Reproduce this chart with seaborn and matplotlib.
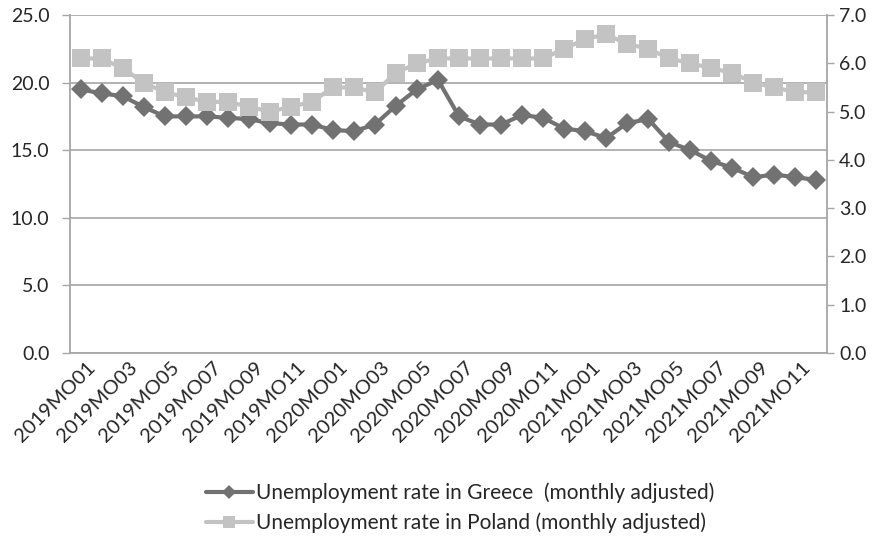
import numpy as np
import pandas as pd
import seaborn as sns
import matplotlib
matplotlib.use("Agg")
import matplotlib.pyplot as plt
import matplotlib.transforms as mtransforms
from matplotlib.lines import Line2D
from matplotlib.ticker import FixedLocator, FormatStrFormatter

months = [f"{y}MO{m:02d}" for y in (2019, 2020, 2021) for m in range(1, 13)]
greece = [19.5, 19.2, 19.0, 18.2, 17.5, 17.5, 17.5, 17.4, 17.3, 17.0, 16.9, 16.9,
          16.5, 16.4, 16.9, 18.3, 19.5, 20.2, 17.5, 16.9, 16.9, 17.6, 17.4, 16.6,
          16.4, 15.9, 17.0, 17.3, 15.6, 15.0, 14.2, 13.7, 13.0, 13.2, 13.0, 12.8]
poland = [6.1, 6.1, 5.9, 5.6, 5.4, 5.3, 5.2, 5.2, 5.1, 5.0, 5.1, 5.2,
          5.5, 5.5, 5.4, 5.8, 6.0, 6.1, 6.1, 6.1, 6.1, 6.1, 6.1, 6.3,
          6.5, 6.6, 6.4, 6.3, 6.1, 6.0, 5.9, 5.8, 5.6, 5.5, 5.4, 5.4]
label_greece = "Unemployment rate in Greece  (monthly adjusted)"
label_poland = "Unemployment rate in Poland (monthly adjusted)"

df = pd.DataFrame({"pos": np.arange(len(months)), "month": months,
                   "greece": greece, "poland": poland})

sns.set_style("white")
plt.rcParams['font.family'] = ['Lato', 'DejaVu Sans']

c_gr = "#727272"
c_pl = "#c2c3c2"
grid_c = "#a6a6a6"

fig = plt.figure(figsize=(8.82, 5.41), dpi=100)
ax = fig.add_axes([70/882, 1-353/541, (827-70)/882, (353-15)/541])
ax2 = ax.twinx()

sns.lineplot(data=df, x="pos", y="greece", ax=ax, color=c_gr, linewidth=3.0,
             marker="D", markersize=10, markeredgewidth=0, zorder=3)
sns.lineplot(data=df, x="pos", y="poland", ax=ax2, color=c_pl, linewidth=3.0,
             marker="s", markersize=12.5, markeredgewidth=0, zorder=3)

n = len(months)
ax.set_xlim(-0.5, n - 0.5)
ax.set_ylim(0, 25)
ax2.set_ylim(0, 7)

ax.set_yticks(np.arange(0, 26, 5))
ax.yaxis.set_major_formatter(FormatStrFormatter("%.1f"))
ax2.set_yticks(np.arange(0, 8, 1))
ax2.yaxis.set_major_formatter(FormatStrFormatter("%.1f"))

ax.set_xticks(np.arange(0, n, 2))
ax.set_xticklabels(months[::2], rotation=45, ha="right", rotation_mode="anchor")
ax.xaxis.set_minor_locator(FixedLocator(np.arange(-0.5, n, 1)))
ax.tick_params(axis="x", which="major", length=0, pad=4, labelsize=14.5)
ax.tick_params(axis="x", which="minor", length=6, color=grid_c, width=1, direction="out")
ax.tick_params(axis="y", length=5.8, color=grid_c, width=1, direction="out", labelsize=14, pad=9)
ax2.tick_params(axis="y", length=4.7, color=grid_c, width=1, direction="out", labelsize=14, pad=4)

offset = mtransforms.ScaledTranslation(6/100, 0, fig.dpi_scale_trans)
for lbl in ax.get_xticklabels():
    lbl.set_transform(lbl.get_transform() + offset)

ax.grid(axis="y", color=grid_c, linewidth=1.2)
ax.grid(axis="x", visible=False)
ax2.grid(False)
ax.set_xlabel("")
ax.set_ylabel("")
ax2.set_ylabel("")

for a in (ax, ax2):
    a.spines["top"].set_visible(False)
    for s in ("left", "right", "bottom"):
        a.spines[s].set_color(grid_c)
        a.spines[s].set_linewidth(1.3)
ax.spines["right"].set_visible(False)
ax2.spines["left"].set_visible(False)
ax2.spines["bottom"].set_visible(False)
if ax.get_legend():
    ax.get_legend().remove()
if ax2.get_legend():
    ax2.get_legend().remove()

handles = [Line2D([], [], color=c_gr, linewidth=3.0, marker="D", markersize=7.5, markeredgewidth=0),
           Line2D([], [], color=c_pl, linewidth=3.0, marker="s", markersize=9, markeredgewidth=0)]
fig.legend(handles, [label_greece, label_poland], loc="center",
           bbox_to_anchor=(460/882, 1-508/541), frameon=False, fontsize=15,
           handlelength=2.25, handletextpad=0.15, labelspacing=0.45)

fig.savefig("out.png", dpi=100)
